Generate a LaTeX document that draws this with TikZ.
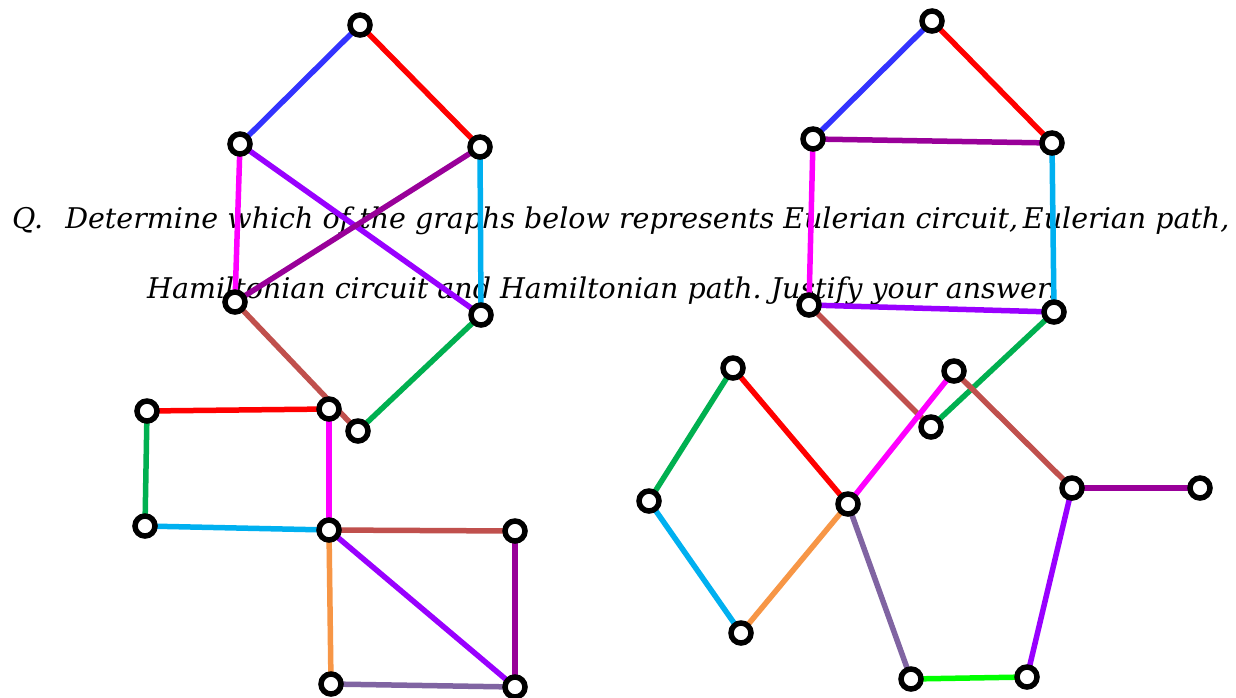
\documentclass[tikz,border=0pt]{standalone}
\usepackage{fontspec}
\setmainfont{DejaVu Serif}
\begin{document}
\begin{tikzpicture}[x=1pt,y=-1pt,
  vtx/.style={circle,draw=black,fill=white,line width=5.5pt,minimum size=20pt,inner sep=0pt},
  edge/.style={line width=5.5pt},
  qtext/.style={anchor=base west,inner sep=0pt,font=\fontsize{28.5}{28.5}\selectfont\itshape}]
\definecolor{cBlue}{HTML}{3333FF}
\definecolor{cRed}{HTML}{FF0000}
\definecolor{cMag}{HTML}{FF00FF}
\definecolor{cViolet}{HTML}{9900FF}
\definecolor{cPlum}{HTML}{990099}
\definecolor{cCyan}{HTML}{00B0F0}
\definecolor{cBrown}{HTML}{C0504D}
\definecolor{cGreen}{HTML}{00B050}
\definecolor{cOrange}{HTML}{F79646}
\definecolor{cGray}{HTML}{8064A2}
\definecolor{cLime}{HTML}{00FF00}
\useasboundingbox (0,0) rectangle (1236,697);
\fill[white] (0,0) rectangle (1236,697);

% question text (under the graphs)
\node[qtext] (q1) at (12,228) {Q.\hspace{13pt} Determine which of the graphs below represents Eulerian circuit,\,Eulerian path,};
\node[qtext] (q2) at (147,298) {Hamiltonian circuit and Hamiltonian path.\ Justify your answer.};

% graph vertices
\coordinate (a1) at (360,25);
\coordinate (a2) at (240,144);
\coordinate (a3) at (480,147);
\coordinate (a4) at (235,302);
\coordinate (a5) at (481,315);
\coordinate (a6) at (358,431);

\coordinate (b1) at (147,411);
\coordinate (b2) at (329,409);
\coordinate (b3) at (145,526);
\coordinate (b4) at (329,530);
\coordinate (b5) at (515,531);
\coordinate (b6) at (331,684);
\coordinate (b7) at (515,687);

\coordinate (c1) at (932,21);
\coordinate (c2) at (813,139);
\coordinate (c3) at (1052,143);
\coordinate (c4) at (809,305);
\coordinate (c5) at (1054,312);
\coordinate (c6) at (931,427);

\coordinate (d1) at (733,368);
\coordinate (d2) at (649,501);
\coordinate (d3) at (848,504);
\coordinate (d4) at (741,633);
\coordinate (d5) at (954,371);
\coordinate (d6) at (1072,488);
\coordinate (d7) at (1200,488);
\coordinate (d8) at (911,679);
\coordinate (d9) at (1027,677);

% edges
\draw[edge,cBlue] (a1) -- (a2);
\draw[edge,cRed] (a1) -- (a3);
\draw[edge,cMag] (a2) -- (a4);
\draw[edge,cViolet] (a2) -- (a5);
\draw[edge,cPlum] (a3) -- (a4);
\draw[edge,cCyan] (a3) -- (a5);
\draw[edge,cBrown] (a4) -- (a6);
\draw[edge,cGreen] (a5) -- (a6);

\draw[edge,cRed] (b1) -- (b2);
\draw[edge,cGreen] (b1) -- (b3);
\draw[edge,cCyan] (b3) -- (b4);
\draw[edge,cMag] (b2) -- (b4);
\draw[edge,cBrown] (b4) -- (b5);
\draw[edge,cOrange] (b4) -- (b6);
\draw[edge,cViolet] (b4) -- (b7);
\draw[edge,cPlum] (b5) -- (b7);
\draw[edge,cGray] (b6) -- (b7);

\draw[edge,cBlue] (c1) -- (c2);
\draw[edge,cRed] (c1) -- (c3);
\draw[edge,cPlum] (c2) -- (c3);
\draw[edge,cMag] (c2) -- (c4);
\draw[edge,cCyan] (c3) -- (c5);
\draw[edge,cViolet] (c4) -- (c5);
\draw[edge,cBrown] (c4) -- (c6);
\draw[edge,cGreen] (c5) -- (c6);

\draw[edge,cGreen] (d1) -- (d2);
\draw[edge,cRed] (d1) -- (d3);
\draw[edge,cCyan] (d2) -- (d4);
\draw[edge,cOrange] (d4) -- (d3);
\draw[edge,cMag] (d3) -- (d5);
\draw[edge,cBrown] (d5) -- (d6);
\draw[edge,cPlum] (d6) -- (d7);
\draw[edge,cViolet] (d6) -- (d9);
\draw[edge,cGray] (d3) -- (d8);
\draw[edge,cLime] (d8) -- (d9);

% vertex circles
\foreach \v in {a1,a2,a3,a4,a5,a6,b1,b2,b3,b4,b5,b6,b7,c1,c2,c3,c4,c5,c6,d1,d2,d3,d4,d5,d6,d7,d8,d9}
  \node[vtx] (n\v) at (\v) {};
\end{tikzpicture}
\end{document}
